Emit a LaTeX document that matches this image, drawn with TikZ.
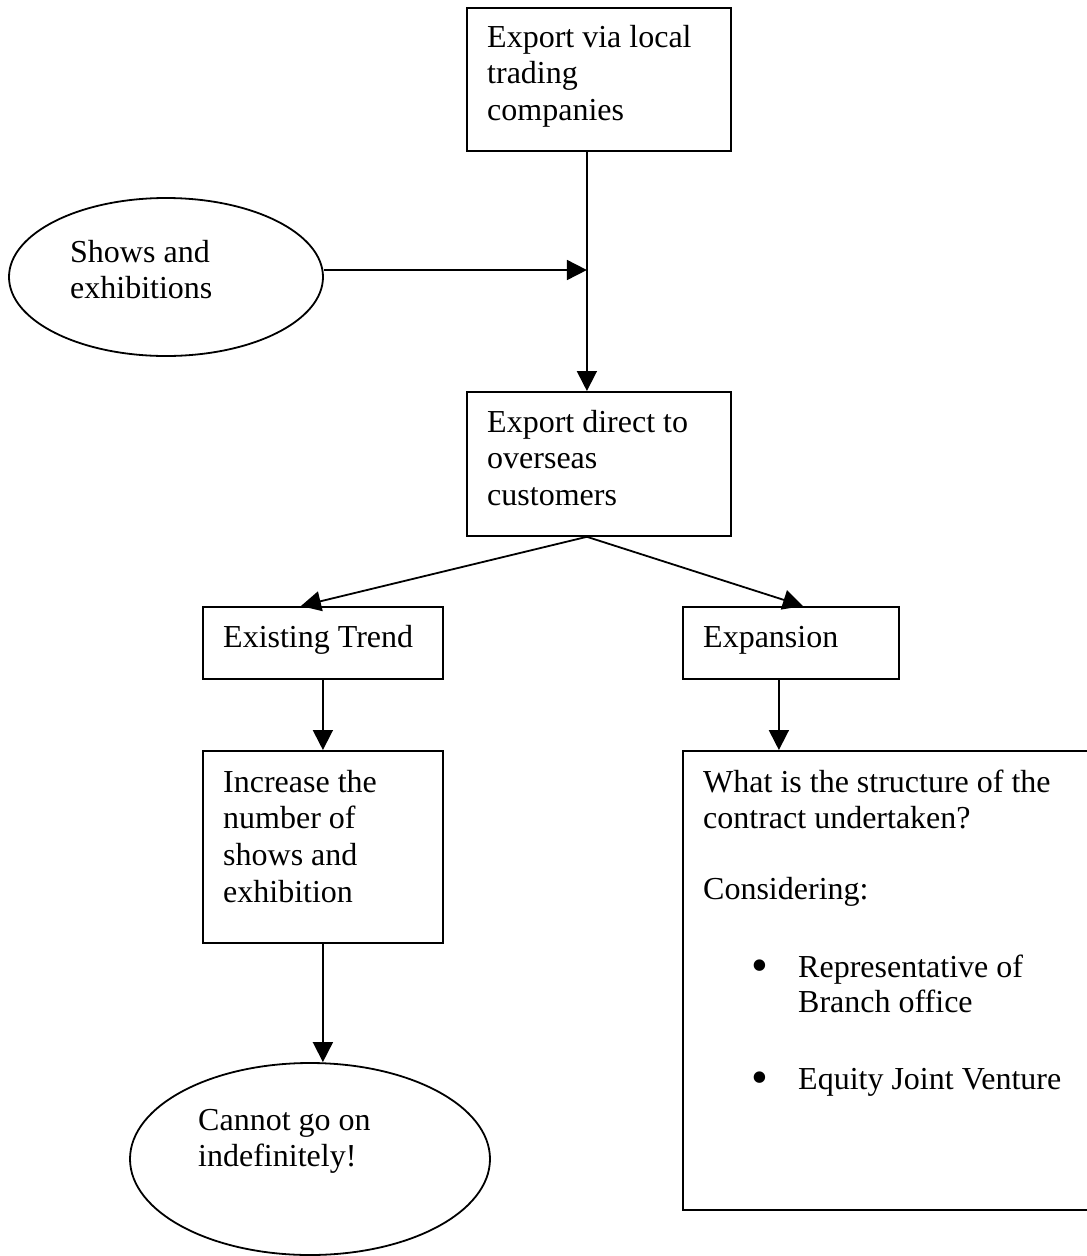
\documentclass[tikz,border=0pt]{standalone}
\usepackage{fontspec}
\setmainfont{Liberation Serif}
\usetikzlibrary{shapes.geometric,arrows.meta}
\newcommand{\bigbul}{\raisebox{-3.5pt}[0pt][0pt]{\fontsize{48}{48}\selectfont\textbullet}}
\begin{document}
\begin{tikzpicture}[x=1pt,y=-1pt,
  box/.style={draw, line width=1.8pt, rectangle, anchor=north west, inner sep=0pt},
  ell/.style={draw, line width=1.8pt, ellipse, inner sep=0pt},
  txt/.style={inner sep=0pt, anchor=base west, font=\fontsize{32}{36.8}\selectfont},
  arr/.style={line width=1.8pt, -{Triangle[length=20pt,width=20pt]}},
  ln/.style={line width=1.8pt}]
\useasboundingbox (0,0) rectangle (1087,1256);

% shapes
\node[box, minimum width=264pt, minimum height=143pt] (A) at (466,7) {};
\node[ell, minimum width=314pt, minimum height=158pt] (S) at (166,277) {};
\node[box, minimum width=264pt, minimum height=144pt] (B) at (466,391) {};
\node[box, minimum width=240pt, minimum height=72pt] (ET) at (202,606) {};
\node[box, minimum width=216pt, minimum height=72pt] (EX) at (682,606) {};
\node[box, minimum width=240pt, minimum height=192pt] (INC) at (202,750) {};
\node[ell, minimum width=360pt, minimum height=192pt] (C) at (310,1159) {};
\node[box, minimum width=408pt, minimum height=459pt] (D) at (682,750) {};

% texts
\node[txt] (tA) at (487,47) {\parbox[t]{300pt}{\raggedright Export via local\\trading\\companies}};
\node[txt] (tS) at (70,262) {\parbox[t]{300pt}{\raggedright Shows and\\exhibitions}};
\node[txt] (tB) at (487,432) {\parbox[t]{300pt}{\raggedright Export direct to\\overseas\\customers}};
\node[txt] (tET) at (223,647) {Existing Trend};
\node[txt] (tEX) at (703,647) {Expansion};
\node[txt] (tINC) at (223,792) {\parbox[t]{300pt}{\raggedright Increase the\\number of\\shows and\\exhibition}};
\node[txt] (tC) at (198,1130) {\parbox[t]{300pt}{\raggedright Cannot go on\\indefinitely!}};
\node[txt] (tD) at (703,792) {\parbox[t]{420pt}{\raggedright What is the structure of the\\contract undertaken?\\[34pt]Considering:\\[41.2pt]\hspace*{48pt}\makebox[47pt][l]{\bigbul}Representative of\\[-1.8pt]\hspace*{95pt}Branch office\\[40.2pt]\hspace*{48pt}\makebox[47pt][l]{\bigbul}Equity Joint Venture}};

% connectors
\coordinate (J) at ([xshift=-12pt]A.south |- 0,270);
\draw[arr] ([xshift=-12pt]A.south) -- ([xshift=-12pt]B.north);
\draw[arr] ([yshift=7pt]S.east) -- (J);
\draw[arr] ([xshift=-12pt]B.south) -- ([xshift=-22pt]ET.north);
\draw[arr] ([xshift=-12pt]B.south) -- ([xshift=12pt]EX.north);
\draw[arr] (ET.south) -- (INC.north);
\draw[arr] ([xshift=-12pt]EX.south) -- ([xshift=-12pt]EX.south |- D.north);
\draw[arr] (INC.south) -- (INC.south |- C.north);
\end{tikzpicture}
\end{document}
